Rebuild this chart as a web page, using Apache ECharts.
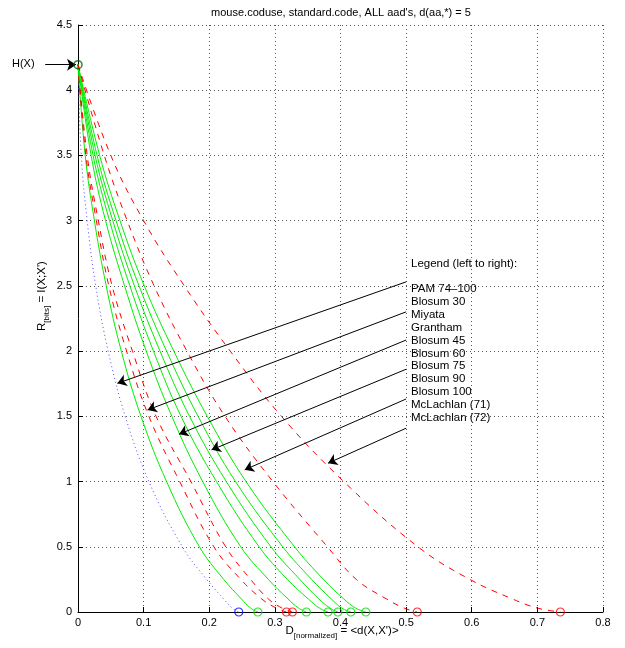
<!DOCTYPE html>
<html>
<head>
<meta charset="utf-8">
<script src="https://cdn.jsdelivr.net/npm/echarts@6/dist/echarts.min.js"></script>
<style>
html,body{margin:0;padding:0;background:#fff}
#chart{width:625px;height:648px}
</style>
</head>
<body>
<div id="chart"></div>
<script>
'use strict'
const FONT = '"Liberation Sans", Arial, Helvetica, sans-serif';

// rate levels (bits) shared by all curves, top to bottom
const rateLevels = [4.196, 3.5, 3.0, 2.5, 2.0, 1.5, 1.0, 0.5, 0.25, 0.1, 0.03, 0];

// normalized distortion read at each rate level
const pam74       = [0, 0.005, 0.014, 0.027, 0.046, 0.072, 0.108, 0.159, 0.196, 0.222, 0.235, 0.245];
const blosum30    = [0, 0.011, 0.025, 0.043, 0.066, 0.096, 0.135, 0.185, 0.222, 0.249, 0.263, 0.274];
const miyata      = [0, 0.012, 0.028, 0.047, 0.074, 0.108, 0.155, 0.207, 0.248, 0.280, 0.302, 0.3176];
const grantham    = [0, 0.014, 0.031, 0.052, 0.083, 0.119, 0.172, 0.225, 0.263, 0.290, 0.311, 0.3267];
const blosum45    = [0, 0.020, 0.042, 0.071, 0.104, 0.143, 0.190, 0.248, 0.290, 0.320, 0.336, 0.348];
const blosum60    = [0, 0.023, 0.048, 0.079, 0.115, 0.157, 0.211, 0.276, 0.319, 0.351, 0.368, 0.381];
const blosum75    = [0, 0.026, 0.053, 0.086, 0.125, 0.170, 0.226, 0.294, 0.338, 0.367, 0.384, 0.396];
const blosum90    = [0, 0.029, 0.058, 0.093, 0.135, 0.183, 0.240, 0.312, 0.356, 0.386, 0.402, 0.4157];
const blosum100   = [0, 0.033, 0.064, 0.101, 0.146, 0.197, 0.256, 0.330, 0.374, 0.405, 0.423, 0.4386];
const mclachlan71 = [0, 0.040, 0.075, 0.116, 0.166, 0.224, 0.297, 0.380, 0.424, 0.470, 0.497, 0.517];
const mclachlan72 = [0, 0.050, 0.100, 0.162, 0.232, 0.310, 0.405, 0.518, 0.597, 0.662, 0.700, 0.735];

const legendLabels = ['PAM 74\u2013100','Blosum 30','Miyata','Grantham','Blosum 45','Blosum 60',
	'Blosum 75','Blosum 90','Blosum 100','McLachlan (71)','McLachlan (72)'];

// annotation arrows (data coords): tail -> head
const arrowTails = [[0.5,2.531],[0.5,2.301],[0.5,2.085],[0.5,1.861],[0.5,1.633],[0.5,1.409]];
const arrowHeads = [[0.060,1.753],[0.106,1.549],[0.154,1.363],[0.2035,1.243],[0.254,1.090],[0.381,1.141]];
const hxArrow = [[-0.05,4.196],[-0.003,4.196]];

const curves = [
	{name:legendLabels[0], xs:pam74, kind:'blue'},
	{name:legendLabels[1], xs:blosum30, kind:'green'},
	{name:legendLabels[2], xs:miyata, kind:'red'},
	{name:legendLabels[3], xs:grantham, kind:'red'},
	{name:legendLabels[4], xs:blosum45, kind:'green'},
	{name:legendLabels[5], xs:blosum60, kind:'green'},
	{name:legendLabels[6], xs:blosum75, kind:'green'},
	{name:legendLabels[7], xs:blosum90, kind:'green'},
	{name:legendLabels[8], xs:blosum100, kind:'green'},
	{name:legendLabels[9], xs:mclachlan71, kind:'red'},
	{name:legendLabels[10], xs:mclachlan72, kind:'red'}
];
const lineStyles = {
	blue:{color:'#4a4aff', width:1, type:[1,3]},
	green:{color:'#00ee00', width:1, type:'solid'},
	red:{color:'#ff0000', width:1, type:[6,6]}
};
const circleColors = {blue:'#0000ff', green:'#00dd00', red:'#ff0000'};

let chart = echarts.init(document.getElementById('chart'));
let series = [];
curves.forEach((c)=>{
	series.push({
		name:c.name,
		type:'line',
		data:c.xs.map((x,i)=>[x, rateLevels[i]]),
		smooth:0.4,
		symbol:'none',
		lineStyle:lineStyles[c.kind],
		z:3
	})
});
// end points on the D axis
series.push({
	type:'scatter',
	clip:false,
	symbol:'circle',
	symbolSize:8,
	itemStyle:{color:'rgba(0,0,0,0)', borderWidth:1.2},
	data:curves.map((c)=>({value:[c.xs[c.xs.length-1],0], itemStyle:{borderColor:circleColors[c.kind]}})),
	z:5
});
// H(X) start point
series.push({
	type:'scatter',
	clip:false,
	symbol:'circle',
	symbolSize:8,
	itemStyle:{color:'rgba(0,0,0,0)', borderColor:'#006000', borderWidth:1.5},
	data:[[0, rateLevels[0]]],
	z:6
});
// arrows
series.push({
	type:'lines',
	coordinateSystem:'cartesian2d',
	clip:false,
	symbol:['none','arrow'],
	symbolSize:9,
	lineStyle:{color:'#000', width:1, opacity:1, curveness:0},
	data:arrowTails.map((t,i)=>({coords:[t, arrowHeads[i]]})).concat([{coords:hxArrow}]),
	z:4
});

const axisCommon = {
	axisLine:{show:true, onZero:false, lineStyle:{color:'#000', width:1}},
	axisTick:{show:true, inside:true, length:5, lineStyle:{color:'#000'}},
	axisLabel:{color:'#000', fontSize:11, fontFamily:FONT},
	splitLine:{show:true, lineStyle:{color:'#555', width:1, type:[1,3]}}
};

// legend text block
let graphic = [];
graphic.push({type:'text', x:411, y:264, style:{text:'Legend (left to right):', font:'11.5px '+FONT, fill:'#000', verticalAlign:'middle'}});
legendLabels.forEach((l,i)=>{
	graphic.push({type:'text', x:411, y:289 + i*12.87, style:{text:l, font:'11.5px '+FONT, fill:'#000', verticalAlign:'middle'}});
});
graphic.push({type:'text', x:341, y:13, style:{text:"mouse.coduse, standard.code, ALL aad's, d(aa,*) = 5", font:'11px '+FONT, fill:'#000', align:'center', verticalAlign:'middle'}});
graphic.push({type:'text', x:12, y:64, style:{text:'H(X)', font:'11px '+FONT, fill:'#000', verticalAlign:'middle'}});
const richLabel = {
	m:{fontSize:11.5, fontFamily:FONT, color:'#000', lineHeight:18, verticalAlign:'middle'},
	s:{fontSize:8, fontFamily:FONT, color:'#000', lineHeight:8, verticalAlign:'bottom'}
};
graphic.push({type:'text', x:342, y:631, style:{text:'{m|D}{s|[normalized]}{m| = <d(X,X\')>}', rich:richLabel, align:'center', verticalAlign:'middle'}});
graphic.push({type:'text', x:42, y:296, rotation:Math.PI/2, style:{text:'{m|R}{s|[bits]}{m| = I(X;X\')}', rich:richLabel, align:'center', verticalAlign:'middle'}});

let option = {
	animation:false,
	backgroundColor:'#fff',
	grid:{left:78, right:22, top:25, bottom:36},
	xAxis:Object.assign({type:'value', min:0, max:0.8, interval:0.1}, axisCommon,
		{axisLabel:Object.assign({}, axisCommon.axisLabel, {margin:5})}),
	yAxis:Object.assign({type:'value', min:0, max:4.5, interval:0.5}, axisCommon,
		{axisLabel:Object.assign({}, axisCommon.axisLabel, {margin:6})}),
	graphic:graphic,
	series:series
};
chart.setOption(option);
</script>
</body>
</html>
